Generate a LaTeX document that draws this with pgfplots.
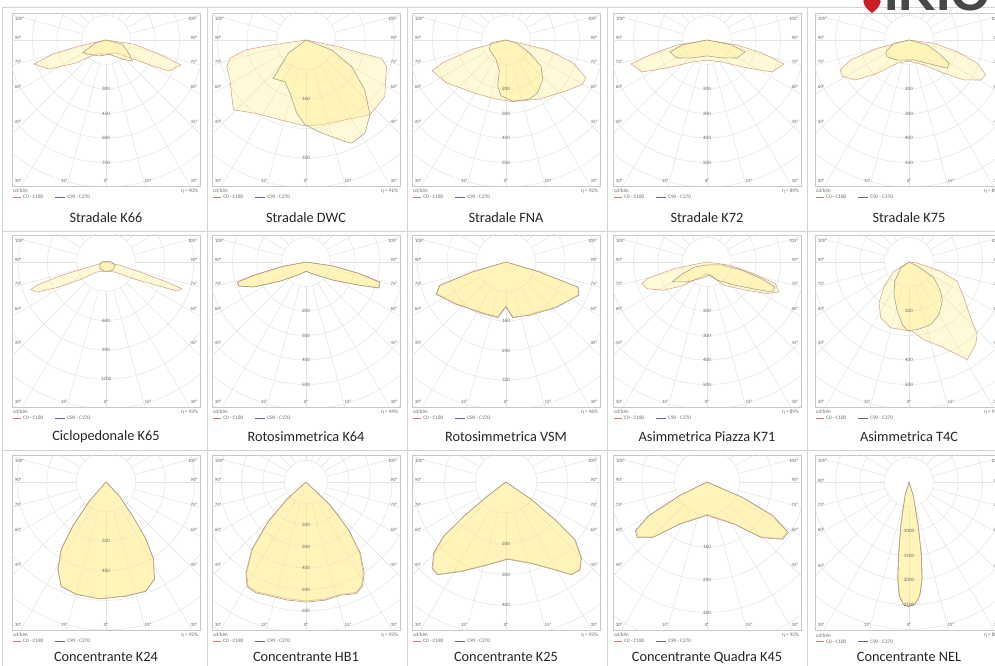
\documentclass[border=0pt]{standalone}
\usepackage{fontspec}
\setmainfont{Carlito}
\newfontfamily\logofont{Liberation Sans}
\usepackage{pgfplots}
\pgfplotsset{compat=1.18}
\usetikzlibrary{calc}

\definecolor{fillY}{RGB}{255,236,125}
\definecolor{cOne}{RGB}{212,165,140}
\definecolor{cTwo}{RGB}{165,155,135}
\definecolor{gridc}{RGB}{226,226,226}
\definecolor{boxc}{RGB}{200,200,200}
\definecolor{sepc}{RGB}{212,212,212}
\definecolor{labc}{RGB}{105,105,105}
\definecolor{legred}{RGB}{215,120,115}
\definecolor{legblue}{RGB}{95,100,140}
\definecolor{ikred}{RGB}{200,30,40}

% R = cd/klm per ring, RP = ring spacing in px, H = box height
\newcommand\setlamp[3]{\def\R{#1}\def\HH{#3}%
  \pgfmathsetmacro\XL{94/#2*#1}%
  \pgfmathsetmacro\YT{27/#2*#1}%
  \pgfmathsetmacro\YB{-(#3-27)/#2*#1}}

\pgfplotsset{
  lamp/.style={scale only axis, width=188pt, height=\HH pt,
    xmin=-\XL, xmax=\XL, ymin=\YB, ymax=\YT,
    xtick=\empty, ytick=\empty,
    axis line style={draw=boxc, line width=0.6pt},
    anchor=north west},
  c0/.style={data cs=polar, mark=none, draw=cOne, line width=0.55pt,
    fill=fillY, fill opacity=0.3},
  c9/.style={data cs=polar, mark=none, draw=cTwo, line width=0.55pt,
    fill=fillY, fill opacity=0.3},
}
\tikzset{
  gridl/.style={draw=gridc, line width=0.45pt},
  vl/.style={font=\fontsize{5}{6}\selectfont, text=labc, inner sep=0.5pt},
  al/.style={font=\fontsize{4.8}{6}\selectfont, text=labc, inner sep=0pt},
  leg/.style={font=\fontsize{5.2}{6}\selectfont, text=labc, inner sep=0pt},
  captxt/.style={font=\fontsize{14.3}{16}\selectfont, text=black!85},
}

\newcommand\lampgrid{%
  \pgfplotsinvokeforeach{1,...,9}{\draw[gridl] (axis cs:0,0) circle[radius={##1*\R}];}%
  \pgfplotsinvokeforeach{0,15,...,345}{\draw[gridl]
    (axis cs:{\R*cos(##1)},{\R*sin(##1)}) -- (axis cs:{12*\R*cos(##1)},{12*\R*sin(##1)});}%
}
\newcommand\vlab[1]{\pgfplotsinvokeforeach{#1}{\node[vl] at (axis cs:0,-##1) {##1};}}
\newcommand\alab{%
  \node[al,anchor=west] at (rel axis cs:0.014,0.965) {105°};
  \node[al,anchor=west] at (rel axis cs:0.014,0.855) {90°};
  \node[al,anchor=west] at (rel axis cs:0.014,0.717) {75°};
  \node[al,anchor=west] at (rel axis cs:0.014,0.572) {60°};
  \node[al,anchor=west] at (rel axis cs:0.014,0.37) {45°};
  \node[al,anchor=west] at (rel axis cs:0.014,0.03) {30°};
  \node[al,anchor=east] at (rel axis cs:0.986,0.965) {105°};
  \node[al,anchor=east] at (rel axis cs:0.986,0.855) {90°};
  \node[al,anchor=east] at (rel axis cs:0.986,0.717) {75°};
  \node[al,anchor=east] at (rel axis cs:0.986,0.572) {60°};
  \node[al,anchor=east] at (rel axis cs:0.986,0.37) {45°};
  \node[al,anchor=east] at (rel axis cs:0.986,0.03) {30°};
  \node[al] at (rel axis cs:0.277,0.03) {15°};
  \node[al] at (rel axis cs:0.5,0.03) {0°};
  \node[al] at (rel axis cs:0.723,0.03) {15°};
}
\newcommand\lleg[2]{%
  \node[leg,anchor=west] at ($(#1.south west)+(1pt,-5pt)$) {cd/klm};
  \draw[legred, line width=0.5pt] ($(#1.south west)+(1pt,-11pt)$) -- ++(8pt,0pt)
     node[leg,anchor=west,xshift=2pt] {C0 - C180};
  \draw[legblue, line width=0.5pt] ($(#1.south west)+(43pt,-11pt)$) -- ++(10pt,0pt)
     node[leg,anchor=west,xshift=2pt] {C90 - C270};
  \node[leg,anchor=east] at ($(#1.south east)+(-2pt,-5pt)$) {η = #2\%};
}

\begin{document}
\begin{tikzpicture}[x=1pt,y=1pt]
\path[use as bounding box] (0pt,0pt) rectangle (995pt,666pt);
\fill[white] (0pt,0pt) rectangle (995pt,666pt);
\begin{scope}
\clip (0pt,0pt) rectangle (995pt,666pt);

% panel frames
\foreach \xx in {2,207,407,607,807} {\draw[sepc, line width=0.6pt] (\xx pt,0pt) -- (\xx pt,659pt);}
\foreach \yy in {659,435,216} {\draw[sepc, line width=0.6pt] (2pt,\yy pt) -- (995pt,\yy pt);}

% ================= ROW 1 =================
\setlamp{150}{24.5}{173}
\begin{axis}[lamp, at={(12pt,653pt)}, name=p1]
\lampgrid
\addplot[c0] coordinates {(180,0) (-167.5,170) (-165.2,335) (-161.6,465) (-153,392) (-142.5,231) (-125.5,105) (-90,86) (-52.4,100) (-35.1,202) (-29,329) (-26.2,430) (-18.4,483) (-14.8,335) (-8.4,167) (0,0)} --cycle;
\addplot[c9] coordinates {(180,0) (-165,64) (-151.4,162) (-139.4,135) (-112.7,106) (-77,90) (-49.1,156) (-38.2,208) (-31.5,167) (-14.4,105) (0,0)} --cycle;
\vlab{300,450,600,750}
\alab
\end{axis}
\lleg{p1}{90}
\node[captxt] at (106pt,448pt) {Stradale K66};

\setlamp{80}{29.5}{173}
\begin{axis}[lamp, at={(212pt,653pt)}, name=p2]
\lampgrid
\addplot[c0] coordinates {(180,0) (-171.7,94) (-170.7,167) (-166.5,212) (-161.4,227) (-152.2,233) (-142.7,253) (-136.1,273) (-124.8,242) (-106.9,227) (-90.7,233) (-79.5,234) (-64,241) (-49.5,267) (-35.7,263) (-18.3,230) (-13.6,211) (-13.4,155) (-11.7,89) (0,0)} --cycle;
\addplot[c9] coordinates {(180,0) (-143.1,60) (-130.5,137) (-116.7,127) (-106.7,151) (-97.2,200) (-90.7,230) (-80.4,256) (-69,295) (-66.1,306) (-57.7,299) (-49.5,267) (-40.3,209) (-30.3,143) (-21.3,75) (0,0)} --cycle;
\vlab{160,320}
\alab
\end{axis}
\lleg{p2}{91}
\node[captxt] at (306pt,448pt) {Stradale DWC};

\setlamp{100}{24.5}{173}
\begin{axis}[lamp, at={(412pt,653pt)}, name=p3]
\lampgrid
\addplot[c0] coordinates {(180,0) (-164.4,141) (-160.3,274) (-157.3,327) (-144.6,300) (-122.3,254) (-99.6,245) (-83.8,253) (-60.7,277) (-40.4,321) (-30,361) (-25.2,361) (-18.8,288) (-13.1,168) (0,0)} --cycle;
\addplot[c9] coordinates {(180,0) (-169.8,62) (-150.9,78) (-117.4,89) (-102.2,129) (-100.2,191) (-95.1,229) (-83.7,251) (-68.6,260) (-59,251) (-47,220) (-36.6,178) (-28.6,108) (-15.1,42) (0,0)} --cycle;
\vlab{200,300,400,500}
\alab
\end{axis}
\lleg{p3}{92}
\node[captxt] at (506pt,448pt) {Stradale FNA};

\setlamp{100}{24.5}{173}
\begin{axis}[lamp, at={(613pt,653pt)}, name=p4]
\lampgrid
\addplot[c0] coordinates {(180,0) (-170.5,124) (-165.7,232) (-162.5,325) (-153.8,295) (-145,199) (-124.3,109) (-90,82) (-55.7,109) (-35,199) (-26.2,295) (-17.3,329) (-13.3,231) (-9.5,124) (0,0)} --cycle;
\addplot[c9] coordinates {(180,0) (-168.7,104) (-162,159) (-149,143) (-129.8,95) (-90,65) (-50.2,95) (-31,143) (-17.5,163) (-11.3,104) (0,0)} --cycle;
\vlab{200,300,400,500}
\alab
\end{axis}
\lleg{p4}{89}
\node[captxt] at (707pt,448pt) {Stradale K72};

\setlamp{100}{24.5}{173}
\begin{axis}[lamp, at={(815pt,653pt)}, name=p5]
\lampgrid
\addplot[c0] coordinates {(180,0) (-165.3,134) (-161.1,251) (-156.5,307) (-151.2,310) (-143.1,272) (-133.6,188) (-116.7,106) (-90,86) (-59,119) (-43.6,197) (-36,277) (-29.2,335) (-24.5,344) (-18.8,295) (-13.6,203) (-7.5,103) (0,0)} --cycle;
\addplot[c9] coordinates {(180,0) (-167.6,63) (-153.3,106) (-143.2,114) (-120.3,95) (-76,84) (-45,144) (-36.5,194) (-30.2,189) (-25.3,143) (-15.3,78) (0,0)} --cycle;
\vlab{200,300,400,500}
\alab
\end{axis}
\lleg{p5}{89}
\node[captxt] at (909pt,448pt) {Stradale K75};

% ================= ROW 2 =================
\setlamp{300}{29.3}{172}
\begin{axis}[lamp, at={(12pt,431pt)}, name=p6]
\lampgrid
\addplot[c0] coordinates {(180,0) (-163.6,243) (-163.1,527) (-161.4,749) (-159.8,821) (-156.6,773) (-152.5,569) (-145.8,323) (-132.9,140) (-90,92) (-48,138) (-31.5,328) (-24.7,571) (-22.3,782) (-19.4,822) (-18.2,654) (-16.4,363) (-13.3,147) (0,0)} --cycle;
\addplot[c9] coordinates {(0,58) (-20.1,98) (-46.5,109) (-90,102) (-131.8,92) (-164.2,64) (170,40) (90,6) (10,40)} --cycle;
\vlab{600,900,1200}
\alab
\end{axis}
\lleg{p6}{93}
\node[captxt] at (106pt,229pt) {Ciclopedonale K65};

\setlamp{100}{24.5}{172}
\begin{axis}[lamp, at={(212pt,431pt)}, name=p7]
\lampgrid
\addplot[c0] coordinates {(180,0) (-169.1,108) (-165.8,222) (-163.8,292) (-160.5,293) (-154.6,238) (-143.4,132) (-110.2,51) (-90,38) (-64,53) (-33.8,134) (-23.3,240) (-19.5,317) (-15.1,313) (-12.2,226) (-8.3,113) (0,0)} --cycle;
\addplot[c9] coordinates {(180,0) (-169,106) (-165.6,220) (-163.6,290) (-160.3,291) (-154.4,236) (-143.2,130) (-110,50) (-90,37) (-64.2,52) (-34,132) (-23.5,238) (-19.7,315) (-15.3,311) (-12.4,224) (-8.5,111) (0,0)} --cycle;
\vlab{200,300,400,500}
\alab
\end{axis}
\lleg{p7}{94}
\node[captxt] at (306pt,229pt) {Rotosimmetrica K64};

\setlamp{80}{29.5}{172}
\begin{axis}[lamp, at={(412pt,431pt)}, name=p8]
\lampgrid
\addplot[c0] coordinates {(180,0) (-163.3,94) (-160.7,192) (-155.4,207) (-140.2,176) (-114.3,154) (-98.4,153) (-90,122) (-83.2,153) (-66.1,156) (-42,182) (-24.4,218) (-19.2,206) (-16.7,94) (0,0)} --cycle;
\addplot[c9] coordinates {(180,0) (-163.5,96) (-160.5,190) (-155.2,209) (-140,178) (-114.5,152) (-98.5,151) (-90,120) (-83,151) (-66,158) (-42.2,184) (-24.6,216) (-19.4,208) (-16.5,96) (0,0)} --cycle;
\vlab{160,240,320}
\alab
\end{axis}
\lleg{p8}{96}
\node[captxt] at (506pt,229pt) {Rotosimmetrica VSM};

\setlamp{100}{24.5}{172}
\begin{axis}[lamp, at={(613pt,431pt)}, name=p9]
\lampgrid
\addplot[c0] coordinates {(180,0) (-168.6,139) (-164.4,254) (-161.5,279) (-156,268) (-146.8,211) (-135,135) (-114.1,67) (-90,48) (-61.3,85) (-54.4,117) (-35.3,200) (-27.8,277) (-22.7,317) (-17.6,293) (-14.1,196) (-8.1,96) (0,0)} --cycle;
\addplot[c9] coordinates {(-150.3,164) (-154.4,113) (-157.4,53) (-90,12) (-11.3,62) (-12.9,146) (-17.2,235) (-20.2,295) (-24.8,292) (-29.9,221) (-40.4,145) (-60.9,84) (-77,54) (-107.4,69) (-135,115)} --cycle;
\vlab{200,300,400,500}
\alab
\end{axis}
\lleg{p9}{89}
\node[captxt] at (707pt,229pt) {Asimmetrica Piazza K71};

\setlamp{100}{24.5}{172}
\begin{axis}[lamp, at={(815pt,431pt)}, name=p10]
\lampgrid
\addplot[c0] coordinates {(90,0) (-6.9,34) (-16.4,135) (-21.8,212) (-33.2,268) (-42.2,340) (-46.8,407) (-51.1,433) (-59.2,464) (-62.5,426) (-69.4,368) (-79.1,323) (-87.3,283) (-105.5,279) (-116.8,256) (-126.2,207) (-135.8,142) (-148.2,72)} --cycle;
\addplot[c9] coordinates {(90,0) (-27.2,53) (-32.6,121) (-42.7,176) (-49.7,210) (-60.3,247) (-70.9,271) (-83,278) (-91.4,280) (-96.1,257) (-103.4,207) (-114.6,147) (-126.5,98) (-144.1,42)} --cycle;
\vlab{200,400,500}
\alab
\end{axis}
\lleg{p10}{91}
\node[captxt] at (909pt,229pt) {Asimmetrica T4C};

% ================= ROW 3 =================
\setlamp{160}{29.6}{175}
\begin{axis}[lamp, at={(12pt,211pt)}, name=p11]
\lampgrid
\addplot[c0] coordinates {(90,0) (-131.3,137) (-127.1,298) (-123.8,437) (-118.9,539) (-113.4,612) (-105,627) (-93.3,631) (-80,625) (-69.9,627) (-63.6,586) (-58.5,489) (-55.1,377) (-51.9,233) (-46.5,104)} --cycle;
\addplot[c9] coordinates {(90,0) (-131,135) (-127,296) (-123.6,435) (-118.7,541) (-113.2,615) (-105,629) (-93,633) (-80,627) (-70,629) (-63.5,588) (-58.4,491) (-55,379) (-52,235) (-46.5,106)} --cycle;
\vlab{320,480}
\alab
\end{axis}
\lleg{p11}{92}
\node[captxt] at (106pt,9pt) {Concentrante K24};

\setlamp{100}{21.5}{175}
\begin{axis}[lamp, at={(212pt,211pt)}, name=p12]
\lampgrid
\addplot[c0] coordinates {(90,0) (-43.8,154) (-48.4,294) (-52.8,412) (-57.7,499) (-61.9,548) (-65.8,564) (-73,546) (-80.8,552) (-90,553) (-99.3,550) (-108.8,552) (-114.3,561) (-119.2,554) (-123.2,504) (-128.5,400) (-133.3,260) (-137.8,120)} --cycle;
\addplot[c9] coordinates {(90,0) (-43.6,157) (-48.2,298) (-52.6,416) (-57.5,504) (-61.8,553) (-65.8,569) (-73,551) (-80.8,557) (-90,559) (-99.3,556) (-108.8,557) (-114.4,566) (-119.3,559) (-123.4,508) (-128.7,404) (-133.5,263) (-138,122)} --cycle;
\vlab{200,300,400,500,600}
\alab
\end{axis}
\lleg{p12}{93}
\node[captxt] at (306pt,9pt) {Concentrante HB1};

\setlamp{100}{30.8}{175}
\begin{axis}[lamp, at={(412pt,211pt)}, name=p13]
\lampgrid
\addplot[c0] coordinates {(90,0) (-34.7,99) (-37.7,198) (-40,290) (-45.3,346) (-50,371) (-54.8,367) (-61,324) (-72.8,275) (-88.7,249) (-102.5,274) (-116.8,324) (-126.5,373) (-130.5,367) (-135.4,327) (-138.8,267) (-140.8,175) (-142.6,75)} --cycle;
\addplot[c9] coordinates {(90,0) (-34.5,101) (-37.5,200) (-39.8,292) (-45.2,348) (-50,373) (-54.8,369) (-61,326) (-72.8,277) (-88.7,251) (-102.5,276) (-116.8,326) (-126.5,375) (-130.6,369) (-135.5,329) (-139,269) (-141,177) (-142.8,77)} --cycle;
\vlab{200,300,400}
\alab
\end{axis}
\lleg{p13}{93}
\node[captxt] at (506pt,9pt) {Concentrante K25};

\setlamp{80}{32.6}{175}
\begin{axis}[lamp, at={(613pt,211pt)}, name=p14]
\lampgrid
\addplot[c0] coordinates {(180,0) (-153.6,73) (-149.9,163) (-145.7,210) (-141.4,216) (-134.3,188) (-122.7,121) (-90,80) (-57.3,121) (-45.7,188) (-37.2,230) (-31.9,232) (-27.1,179) (-23.6,92) (0,0)} --cycle;
\addplot[c9] coordinates {(180,0) (-153.8,75) (-150,166) (-145.8,213) (-141.5,219) (-134.4,191) (-122.8,123) (-90,82) (-57.2,123) (-45.6,191) (-37.1,233) (-31.8,235) (-27,182) (-23.5,94) (0,0)} --cycle;
\vlab{160,240,320}
\alab
\end{axis}
\lleg{p14}{92}
\node[captxt] at (707pt,9pt) {Concentrante Quadra K45};

\setlamp{500}{24.5}{175}
\begin{axis}[lamp, at={(815pt,211pt)}, name=p15]
\lampgrid
\addplot[c0] coordinates {(90,0) (-72.1,286) (-77.9,904) (-80.2,1518) (-82.2,1991) (-84.5,2322) (-87.2,2485) (-90,2530) (-92.7,2497) (-95,2319) (-96.7,1987) (-98.3,1512) (-100.9,900) (-106.7,284)} --cycle;
\addplot[c9] coordinates {(90,0) (-72.5,290) (-78.2,910) (-80.5,1525) (-82.4,1998) (-84.7,2330) (-87.3,2492) (-90,2540) (-92.6,2502) (-94.8,2325) (-96.5,1995) (-98,1520) (-100.6,905) (-106.3,288)} --cycle;
\vlab{1000,1500,2000,2500}
\alab
\end{axis}
\lleg{p15}{88}
\node[captxt] at (909pt,9pt) {Concentrante NEL};

% logo
\fill[ikred] (872pt,653pt) .. controls (865pt,658pt) and (862pt,663pt) .. (864pt,668pt)
   -- (880pt,668pt) .. controls (882pt,663pt) and (879pt,658pt) .. (872pt,653pt) -- cycle;
\node[anchor=base west, inner sep=0pt, text=black!72,
      font=\logofont\bfseries\fontsize{52}{52}\selectfont] at (884pt,655pt) {IKIO};
\end{scope}
\end{tikzpicture}
\end{document}
